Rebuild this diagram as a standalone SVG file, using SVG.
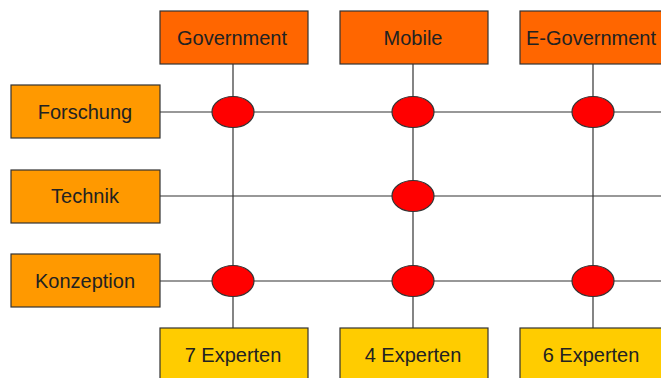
<svg xmlns="http://www.w3.org/2000/svg" width="661" height="378" viewBox="0 0 661 378">
  <style>
    .box { stroke: #333; stroke-width: 1.2; }
    .top { fill: #FF6600; }
    .side { fill: #FF9900; }
    .bottom { fill: #FFCC00; }
    .dot { fill: #FF0000; stroke: #333; stroke-width: 1.2; }
    .line { stroke: #333; stroke-width: 1.2; fill: none; }
    text { font-family: "Liberation Sans", Arial, sans-serif; font-size: 20px; fill: #222; text-anchor: middle; }
  </style>
  <rect width="661" height="378" fill="#ffffff"/>

  <!-- grid connectors -->
  <g id="connectors">
    <line class="line" x1="233" y1="64" x2="233" y2="328"/>
    <line class="line" x1="413" y1="64" x2="413" y2="328"/>
    <line class="line" x1="593" y1="64" x2="593" y2="328"/>
    <line class="line" x1="160" y1="112" x2="661" y2="112"/>
    <line class="line" x1="160" y1="196" x2="661" y2="196"/>
    <line class="line" x1="160" y1="281" x2="661" y2="281"/>
  </g>

  <!-- column headers -->
  <g id="government"><rect class="box top" x="160" y="11" width="148" height="53"/><text x="232" y="45">Government</text></g>
  <g id="mobile"><rect class="box top" x="340" y="11" width="148" height="53"/><text x="413" y="45">Mobile</text></g>
  <g id="e-government"><rect class="box top" x="520" y="11" width="148" height="53"/><text x="591" y="45">E-Government</text></g>

  <!-- row headers -->
  <g id="forschung"><rect class="box side" x="11" y="85" width="149" height="53"/><text x="85" y="119">Forschung</text></g>
  <g id="technik"><rect class="box side" x="11" y="170" width="149" height="53"/><text x="85" y="203">Technik</text></g>
  <g id="konzeption"><rect class="box side" x="11" y="254" width="149" height="53"/><text x="85" y="288">Konzeption</text></g>

  <!-- column totals -->
  <g id="experten-7"><rect class="box bottom" x="160" y="328" width="148" height="55"/><text x="233" y="362">7 Experten</text></g>
  <g id="experten-4"><rect class="box bottom" x="340" y="328" width="148" height="55"/><text x="413" y="362">4 Experten</text></g>
  <g id="experten-6"><rect class="box bottom" x="520" y="328" width="148" height="55"/><text x="591" y="362">6 Experten</text></g>

  <!-- intersections -->
  <g id="dot-1"><ellipse class="dot" cx="233" cy="112" rx="21" ry="15.5"/></g>
  <g id="dot-2"><ellipse class="dot" cx="413" cy="112" rx="21" ry="15.5"/></g>
  <g id="dot-3"><ellipse class="dot" cx="593" cy="112" rx="21" ry="15.5"/></g>
  <g id="dot-4"><ellipse class="dot" cx="413" cy="196" rx="21" ry="15.5"/></g>
  <g id="dot-5"><ellipse class="dot" cx="233" cy="281" rx="21" ry="15.5"/></g>
  <g id="dot-6"><ellipse class="dot" cx="413" cy="281" rx="21" ry="15.5"/></g>
  <g id="dot-7"><ellipse class="dot" cx="593" cy="281" rx="21" ry="15.5"/></g>
</svg>
